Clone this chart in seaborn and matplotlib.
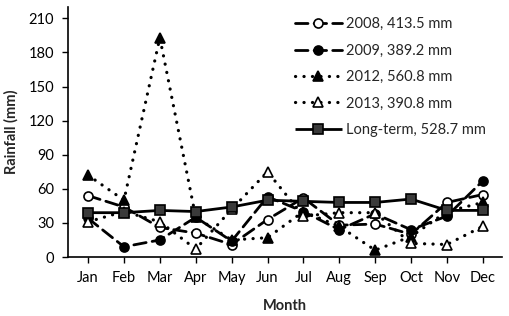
import matplotlib
matplotlib.use("Agg")
import matplotlib.pyplot as plt
import seaborn as sns
import numpy as np
import pandas as pd

months = ["Jan", "Feb", "Mar", "Apr", "May", "Jun", "Jul", "Aug", "Sep", "Oct", "Nov", "Dec"]
labels = ["2008, 413.5 mm", "2009, 389.2 mm", "2012, 560.8 mm", "2013, 390.8 mm", "Long-term, 528.7 mm"]
r2008 = [54, 44, 26, 21, 11, 33, 52, 28, 29, 20, 48, 55]
r2009 = [34, 9, 15, 35, 14, 53, 40, 24, 38, 24, 36, 67]
r2012 = [72, 50, 193, 35, 15, 17, 40, 27, 6, 18, 40, 48]
r2013 = [31, 40, 31, 7, 42, 75, 36, 39, 39, 12, 11, 27]
rlong = [39, 39, 41, 40, 44, 50, 49, 48, 48, 51, 41, 41]
yticks = [0, 30, 60, 90, 120, 150, 180, 210]

sns.set_theme(style="ticks")
plt.rcParams['font.family'] = ['Lato', 'DejaVu Sans']

fig = plt.figure(figsize=(5.10, 3.16), dpi=100)
ax = fig.add_axes([0.1333, 0.1867, 0.8507, 0.7911])

x = np.arange(len(months))
series = [r2008, r2009, r2012, r2013, rlong]
dash = (0, (4.5, 2.2))
dot = (0, (0.05, 2.6))
styles = [
    dict(linestyle=dash, marker="o", markerfacecolor="white", markersize=6.5, linewidth=2.0),
    dict(linestyle=dash, marker="o", markerfacecolor="black", markersize=6.5, linewidth=2.0),
    dict(linestyle=dot, marker="^", markerfacecolor="black", markersize=7, linewidth=2.3),
    dict(linestyle=dot, marker="^", markerfacecolor="white", markersize=7, linewidth=2.3),
    dict(linestyle="-", marker="s", markerfacecolor="#3a3a3a", markersize=6.5, linewidth=2.0),
]
for vals, lab, st in zip(series, labels, styles):
    df = pd.DataFrame({"x": x, "y": vals})
    sns.lineplot(data=df, x="x", y="y", ax=ax, color="black", label=lab,
                 markeredgecolor="black", markeredgewidth=1.2,
                 dash_capstyle="round", solid_capstyle="butt", **st)

ax.set_xlim(-0.56, 11.53)
ax.set_ylim(0, 220)
ax.set_xticks(x)
ax.set_xticklabels(months)
ax.set_yticks(yticks)
ax.tick_params(axis="both", labelsize=10.5, length=4, width=1, color="black", labelcolor="black", pad=6)
for s in ["top", "right"]:
    ax.spines[s].set_visible(False)
for s in ["left", "bottom"]:
    ax.spines[s].set_color("black")
    ax.spines[s].set_linewidth(1.2)
ax.set_xlabel("Month", fontsize=10.5, fontweight="bold", labelpad=10)
ax.set_ylabel("Rainfall (mm)", fontsize=10.5, fontweight="bold", labelpad=7)

leg = ax.legend(loc="upper left", bbox_to_anchor=(0.50, 1.0), frameon=False, fontsize=10.5,
                handlelength=3.2, handletextpad=0.3, labelspacing=0.85, borderaxespad=0.3)

fig.savefig("out.png", dpi=100)
